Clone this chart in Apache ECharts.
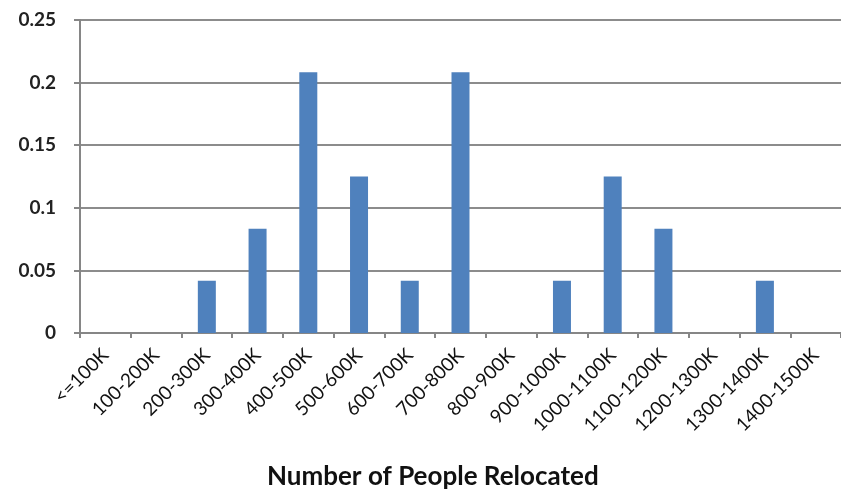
<!DOCTYPE html>
<html>
<head>
<meta charset="utf-8">
<script src="https://cdn.jsdelivr.net/npm/echarts@6/dist/echarts.min.js"></script>
<style>
  html, body { margin: 0; padding: 0; background: #fff; }
  #chart { width: 841px; height: 489px; }
</style>
</head>
<body>
<div id="chart"></div>
<script>
// Relocation ranges and share of cases in each
const categories = [
  "<=100K", "100-200K", "200-300K", "300-400K", "400-500K", "500-600K",
  "600-700K", "700-800K", "800-900K", "900-1000K", "1000-1100K",
  "1100-1200K", "1200-1300K", "1300-1400K", "1400-1500K"
];
const shares = [
  0, 0, 0.0417, 0.0833, 0.2083, 0.125, 0.0417, 0.2083,
  0, 0.0417, 0.125, 0.0833, 0, 0.0417, 0
];
const yTicks = [0, 0.05, 0.1, 0.15, 0.2, 0.25];
const xTitle = "Number of People Relocated";

const chart = echarts.init(document.getElementById("chart"));
const font = "Lato, 'Open Sans', sans-serif";

chart.setOption({
  animation: false,
  grid: { left: 80, right: 0, top: 20, bottom: 156 },
  xAxis: {
    type: "category",
    data: categories,
    axisLine: { lineStyle: { color: "#868686", width: 2 } },
    axisTick: { show: true, length: 5, lineStyle: { color: "#868686", width: 2 } },
    axisLabel: {
      rotate: 45,
      interval: 0,
      margin: 19,
      fontSize: 19,
      color: "#111",
      fontFamily: font
    },
    splitLine: { show: false }
  },
  yAxis: {
    type: "value",
    min: yTicks[0],
    max: yTicks[yTicks.length - 1],
    interval: 0.05,
    axisLine: { show: true, lineStyle: { color: "#868686", width: 2 } },
    axisTick: { show: true, length: 6, lineStyle: { color: "#868686", width: 2 } },
    axisLabel: {
      margin: 24,
      fontSize: 19,
      fontWeight: "bold",
      color: "#222",
      fontFamily: font,
      formatter: v => String(Math.round(v * 100) / 100)
    },
    splitLine: { lineStyle: { color: "#8c8c8c", width: 2 } }
  },
  graphic: [{
    type: "text",
    left: 267,
    top: 464,
    style: {
      text: xTitle,
      font: "bold 26px " + font,
      fill: "#111"
    }
  }],
  series: [{
    type: "bar",
    data: shares,
    barWidth: 18,
    itemStyle: { color: "#4f81bd" }
  }]
});
</script>
</body>
</html>
